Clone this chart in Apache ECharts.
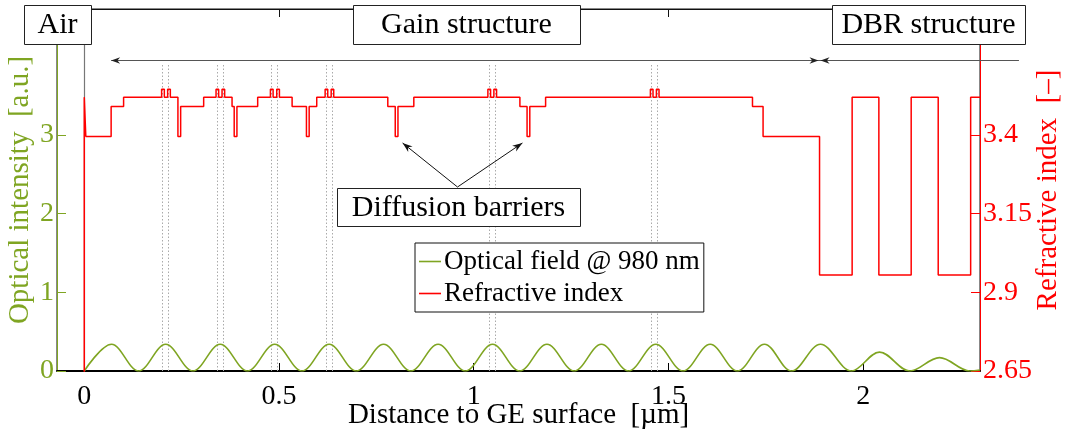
<!DOCTYPE html>
<html>
<head>
<meta charset="utf-8">
<script src="https://cdn.jsdelivr.net/npm/echarts@6/dist/echarts.min.js"></script>
<style>
  html, body { margin: 0; padding: 0; background: #fff; }
  #chart { width: 1070px; height: 434px; }
</style>
</head>
<body>
<div id="chart"></div>
<script>
// Layer stack of the VECSEL chip: start position of each layer (µm) and its refractive index
const layerStart = [
  -0.07, 0, 0.004, 0.069, 0.101,
  0.1986, 0.2056, 0.2141, 0.2210, 0.2405, 0.2475, 0.3066,
  0.3384, 0.3451, 0.3538, 0.3605, 0.3795, 0.3850, 0.3920, 0.4453,
  0.4780, 0.4849, 0.4942, 0.5011, 0.5337, 0.5705, 0.5775, 0.5969,
  0.6185, 0.6252, 0.6340, 0.6406, 0.7794, 0.7985, 0.8055, 0.8462,
  1.0364, 1.0433, 1.0518, 1.0587, 1.1186, 1.1370, 1.1440, 1.1846,
  1.4537, 1.4604, 1.4691, 1.4758, 1.7158, 1.7430,
  1.8880, 1.9717, 2.0403, 2.1233, 2.1927, 2.2760
];
const layerIndex = [
  1.00, 3.52, 3.395, 3.49, 3.52,
  3.545, 3.52, 3.545, 3.52, 3.395, 3.49, 3.52,
  3.545, 3.52, 3.545, 3.52, 3.49, 3.395, 3.49, 3.52,
  3.545, 3.52, 3.545, 3.52, 3.49, 3.395, 3.49, 3.52,
  3.545, 3.52, 3.545, 3.52, 3.49, 3.395, 3.49, 3.52,
  3.545, 3.52, 3.545, 3.52, 3.49, 3.395, 3.49, 3.52,
  3.545, 3.52, 3.545, 3.52, 3.49, 3.395,
  2.955, 3.52, 2.955, 3.52, 2.955, 3.52
];
const stackEnd = 2.3;

// Standing-wave intensity at 980 nm: nodes, antinode positions and antinode heights
const fieldNodeX = [0, 0.1395, 0.2790, 0.4190, 0.5590, 0.6985, 0.8385, 0.9785, 1.1180,
                    1.2580, 1.3975, 1.5374, 1.6770, 1.8160, 1.9702, 2.1200, 2.2742];
const fieldPeakX = [0.0700, 0.2090, 0.3490, 0.4890, 0.6288, 0.7685, 0.9085, 1.0483,
                    1.1880, 1.3278, 1.4675, 1.6072, 1.7465, 1.8905, 2.0420, 2.1960];
const fieldPeakI = [0.34, 0.34, 0.34, 0.34, 0.34, 0.34, 0.34, 0.34,
                    0.34, 0.34, 0.34, 0.34, 0.34, 0.34, 0.24, 0.17];
const fieldTail = [2.3, 0.012];

// Quantum-well positions (dotted guide lines)
const qwLines = [0.2012, 0.2166, 0.3410, 0.3564, 0.4805, 0.4967, 0.6211, 0.6365,
                 1.0389, 1.0554, 1.4563, 1.4724];

// Diffusion barriers singled out by the annotation
const pointedBarriers = [0.802, 1.1405];
const barrierIndex = 3.395;

// Structure sections drawn as arrows above the profile
const gainSection = [0.069, 1.888];
const dbrSection = [1.888, 2.40];

// Axis ticks
const xTicks = [0, 0.5, 1, 1.5, 2];
const intensityTicks = [0, 1, 2, 3];
const indexTicks = [2.65, 2.9, 3.15, 3.4];

const FONT = "'Liberation Serif', 'Times New Roman', serif";
const GREEN = '#7fa522';
const RED = '#ff0000';

// Step profile of the refractive index
const indexLine = [];
for (let i = 0; i < layerStart.length; i++) {
  const x1 = i + 1 < layerStart.length ? layerStart[i + 1] : stackEnd;
  indexLine.push([layerStart[i], layerIndex[i]], [x1, layerIndex[i]]);
}

// Intensity curve through nodes and antinodes
const fieldLine = [];
for (let i = 0; i < fieldPeakX.length; i++) {
  fieldLine.push([fieldNodeX[i], 0], [fieldPeakX[i], fieldPeakI[i]]);
}
fieldLine.push([fieldNodeX[fieldNodeX.length - 1], 0], fieldTail);

const chart = echarts.init(document.getElementById('chart'), null, { renderer: 'canvas' });

const tickFont = { fontFamily: FONT, fontSize: 28 };

const option = {
  animation: false,
  backgroundColor: '#fff',
  grid: {
    left: 57, right: 90, top: 9, bottom: 63,
    containLabel: false, outerBoundsMode: 'none',
    show: true, borderColor: '#111', borderWidth: 1, backgroundColor: 'transparent'
  },
  legend: {
    orient: 'vertical',
    left: 415, top: 243,
    icon: 'rect',
    itemWidth: 22, itemHeight: 1.6, itemGap: 5,
    padding: [5, 4, 5, 4],
    backgroundColor: '#fff', borderColor: '#111', borderWidth: 1,
    selectedMode: false,
    textStyle: { fontFamily: FONT, fontSize: 27, color: '#000', padding: [0, 0, 0, -2] },
    data: ['Optical field @ 980 nm', 'Refractive index'],
    z: 20
  },
  xAxis: [
    {
      type: 'value', min: -0.07, max: 2.3, position: 'bottom',
      axisLine: { show: true, onZero: false, lineStyle: { color: '#000', width: 2 } },
      axisTick: { show: true, inside: true, length: 8, customValues: xTicks, lineStyle: { color: '#000', width: 1 } },
      axisLabel: { customValues: xTicks, color: '#000', margin: 12, ...tickFont },
      splitLine: { show: false },
      name: 'Distance to GE surface  [\u00b5m]',
      nameLocation: 'middle', nameGap: 30, nameMoveOverlap: false,
      nameTextStyle: { color: '#000', fontFamily: FONT, fontSize: 29 }
    },
    {
      type: 'value', min: -0.07, max: 2.3, position: 'top',
      axisLine: { show: true, onZero: false, lineStyle: { color: '#111', width: 1 } },
      axisTick: { show: true, inside: true, length: 8, customValues: xTicks, lineStyle: { color: '#111', width: 1 } },
      axisLabel: { show: false },
      splitLine: { show: false }
    }
  ],
  yAxis: [
    {
      type: 'value', min: 0, max: 4.6, position: 'left',
      axisLine: { show: true, onZero: false, lineStyle: { color: GREEN, width: 1 } },
      axisTick: { show: true, inside: true, length: 9, customValues: intensityTicks, lineStyle: { color: GREEN, width: 1 } },
      axisLabel: { customValues: intensityTicks, color: GREEN, margin: 3, ...tickFont },
      splitLine: { show: false },
      name: 'Optical intensity  [a.u.]',
      nameLocation: 'middle', nameGap: 22, nameMoveOverlap: false,
      nameTextStyle: { color: GREEN, fontFamily: FONT, fontSize: 29 }
    },
    {
      type: 'value', min: 2.65, max: 3.8, position: 'right',
      axisLine: { show: true, onZero: false, lineStyle: { color: RED, width: 1 } },
      axisTick: { show: true, inside: true, length: 9, customValues: indexTicks, lineStyle: { color: RED, width: 1 } },
      axisLabel: { customValues: indexTicks, color: RED, margin: 3, ...tickFont },
      splitLine: { show: false },
      name: 'Refractive index  [\u2013]',
      nameLocation: 'middle', nameGap: 54, nameMoveOverlap: false,
      nameTextStyle: { color: RED, fontFamily: FONT, fontSize: 29 }
    }
  ],
  series: [
    {
      name: 'Optical field @ 980 nm',
      type: 'line', xAxisIndex: 0, yAxisIndex: 0,
      data: fieldLine,
      smooth: 0.36,
      symbol: 'none',
      lineStyle: { color: GREEN, width: 1.6 },
      itemStyle: { color: GREEN },
      z: 3,
      markLine: {
        silent: true, symbol: 'none', animation: false, z: 1,
        label: { show: false },
        emphasis: { disabled: true },
        lineStyle: { color: '#aaaaaa', type: [1.5, 2], width: 1 },
        data: [
          { xAxis: 0, lineStyle: { color: '#777', type: 'solid', width: 1.2 } },
          ...qwLines.map(x => [{ coord: [x, 0] }, { coord: [x, 3.9] }])
        ]
      }
    },
    {
      name: 'Refractive index',
      type: 'line', xAxisIndex: 0, yAxisIndex: 1,
      data: indexLine,
      symbol: 'none',
      lineStyle: { color: RED, width: 1.5 },
      itemStyle: { color: RED },
      z: 4
    }
  ]
};

chart.setOption(option);

// Annotations: labelled boxes and arrows
const toPx = (x, n) => chart.convertToPixel({ xAxisIndex: 0, yAxisIndex: 1 }, [x, n]);
const xPx = x => chart.convertToPixel({ xAxisIndex: 0 }, x);

const graphics = [];
function labelBox(x, y, w, h, text, size) {
  graphics.push({
    type: 'rect', z: 50,
    shape: { x: x + 0.5, y: y + 0.5, width: w, height: h },
    style: { fill: '#fff', stroke: '#222', lineWidth: 1 }
  });
  graphics.push({
    type: 'text', z: 51,
    x: x + w / 2, y: y + h / 2 + 1,
    style: { text, fill: '#000', font: size + 'px ' + FONT, align: 'center', verticalAlign: 'middle' }
  });
}
function arrowHead(tx, ty, fx, fy, color, len, half) {
  const dx = tx - fx, dy = ty - fy;
  const d = Math.hypot(dx, dy);
  const ux = dx / d, uy = dy / d;
  const bx = tx - ux * len, by = ty - uy * len;
  graphics.push({
    type: 'polygon', z: 52,
    shape: { points: [[tx, ty], [bx - uy * half, by + ux * half], [tx - ux * len * 0.7, ty - uy * len * 0.7], [bx + uy * half, by - ux * half]] },
    style: { fill: color }
  });
}
function line(x1, y1, x2, y2, color, w) {
  graphics.push({
    type: 'line', z: 49,
    shape: { x1, y1, x2, y2 },
    style: { stroke: color, lineWidth: w }
  });
}

// Section arrows
const arrowY = 60.5;
const gx0 = xPx(gainSection[0]), gx1 = xPx(gainSection[1]);
const dx0 = xPx(dbrSection[0]), dx1 = xPx(dbrSection[1]);
line(gx0, arrowY, dx1, arrowY, '#555', 1.2);
arrowHead(gx0, arrowY, gx0 + 10, arrowY, '#222', 9, 3.2);
arrowHead(gx1 - 1, arrowY, gx1 - 11, arrowY, '#222', 9, 3.2);
arrowHead(dx0 + 1, arrowY, dx0 + 11, arrowY, '#222', 9, 3.2);

// Diffusion barrier arrows
const apex = [457.5, 187];
pointedBarriers.forEach((x, i) => {
  const p = toPx(x, barrierIndex);
  const tip = [p[0] + (i === 0 ? 6 : -6), p[1] + 6.5];
  line(apex[0], apex[1], tip[0], tip[1], '#111', 1);
  arrowHead(tip[0], tip[1], apex[0], apex[1], '#111', 10, 3.5);
});

labelBox(24, 5, 67, 39, 'Air', 30);
labelBox(353, 5, 227, 39, 'Gain structure', 30);
labelBox(832, 5, 193, 39, 'DBR structure', 30);
labelBox(337, 188, 243, 38, 'Diffusion barriers', 30);

chart.setOption({ graphic: graphics });
</script>
</body>
</html>
